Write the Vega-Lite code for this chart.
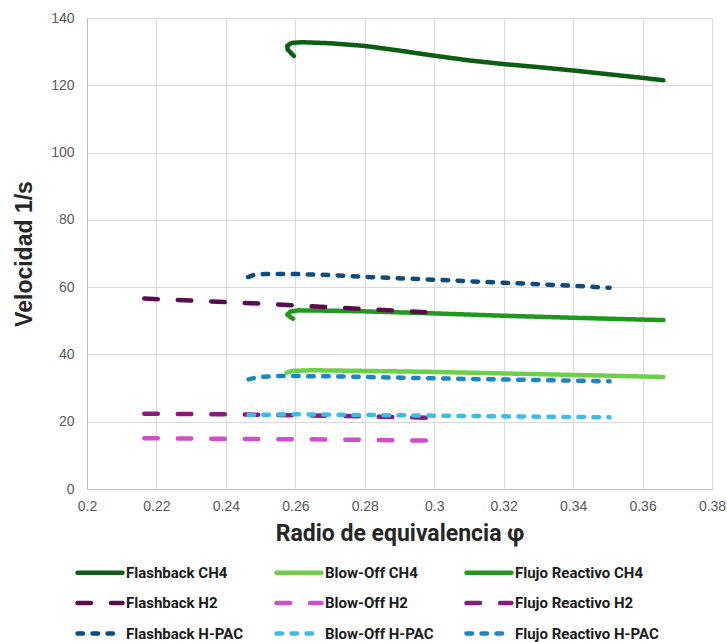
{
  "$schema": "https://vega.github.io/schema/vega-lite/v6.json",
  "width": 625,
  "height": 471,
  "autosize": {"type": "none"},
  "padding": {"left": 87, "top": 18, "right": 15, "bottom": 153},
  "background": "white",
  "data": {
    "values": [
      {"s": "Flashback CH4", "i": 0, "phi": 0.2596, "v": 128.7},
      {"s": "Flashback CH4", "i": 1, "phi": 0.2578, "v": 130.6},
      {"s": "Flashback CH4", "i": 2, "phi": 0.2577, "v": 131.8},
      {"s": "Flashback CH4", "i": 3, "phi": 0.259, "v": 132.6},
      {"s": "Flashback CH4", "i": 4, "phi": 0.262, "v": 132.8},
      {"s": "Flashback CH4", "i": 5, "phi": 0.27, "v": 132.5},
      {"s": "Flashback CH4", "i": 6, "phi": 0.28, "v": 131.7},
      {"s": "Flashback CH4", "i": 7, "phi": 0.29, "v": 130.3},
      {"s": "Flashback CH4", "i": 8, "phi": 0.3, "v": 128.8},
      {"s": "Flashback CH4", "i": 9, "phi": 0.31, "v": 127.4},
      {"s": "Flashback CH4", "i": 10, "phi": 0.32, "v": 126.3},
      {"s": "Flashback CH4", "i": 11, "phi": 0.33, "v": 125.4},
      {"s": "Flashback CH4", "i": 12, "phi": 0.34, "v": 124.4},
      {"s": "Flashback CH4", "i": 13, "phi": 0.35, "v": 123.3},
      {"s": "Flashback CH4", "i": 14, "phi": 0.36, "v": 122.2},
      {"s": "Flashback CH4", "i": 15, "phi": 0.366, "v": 121.5},

      {"s": "Blow-Off CH4", "i": 0, "phi": 0.2575, "v": 34.6},
      {"s": "Blow-Off CH4", "i": 1, "phi": 0.259, "v": 35.1},
      {"s": "Blow-Off CH4", "i": 2, "phi": 0.265, "v": 35.3},
      {"s": "Blow-Off CH4", "i": 3, "phi": 0.28, "v": 35.1},
      {"s": "Blow-Off CH4", "i": 4, "phi": 0.3, "v": 34.8},
      {"s": "Blow-Off CH4", "i": 5, "phi": 0.327, "v": 34.2},
      {"s": "Blow-Off CH4", "i": 6, "phi": 0.345, "v": 33.8},
      {"s": "Blow-Off CH4", "i": 7, "phi": 0.366, "v": 33.3},

      {"s": "Flujo Reactivo CH4", "i": 0, "phi": 0.2593, "v": 50.6},
      {"s": "Flujo Reactivo CH4", "i": 1, "phi": 0.2577, "v": 51.8},
      {"s": "Flujo Reactivo CH4", "i": 2, "phi": 0.2585, "v": 52.7},
      {"s": "Flujo Reactivo CH4", "i": 3, "phi": 0.261, "v": 53.1},
      {"s": "Flujo Reactivo CH4", "i": 4, "phi": 0.27, "v": 53.0},
      {"s": "Flujo Reactivo CH4", "i": 5, "phi": 0.28, "v": 52.8},
      {"s": "Flujo Reactivo CH4", "i": 6, "phi": 0.3, "v": 52.2},
      {"s": "Flujo Reactivo CH4", "i": 7, "phi": 0.32, "v": 51.5},
      {"s": "Flujo Reactivo CH4", "i": 8, "phi": 0.34, "v": 50.9},
      {"s": "Flujo Reactivo CH4", "i": 9, "phi": 0.366, "v": 50.2},

      {"s": "Flashback H2", "i": 0, "phi": 0.2165, "v": 56.6},
      {"s": "Flashback H2", "i": 1, "phi": 0.23, "v": 56.0},
      {"s": "Flashback H2", "i": 2, "phi": 0.25, "v": 55.1},
      {"s": "Flashback H2", "i": 3, "phi": 0.27, "v": 54.0},
      {"s": "Flashback H2", "i": 4, "phi": 0.298, "v": 52.5},

      {"s": "Blow-Off H2", "i": 0, "phi": 0.2165, "v": 15.1},
      {"s": "Blow-Off H2", "i": 1, "phi": 0.24, "v": 14.9},
      {"s": "Blow-Off H2", "i": 2, "phi": 0.26, "v": 14.8},
      {"s": "Blow-Off H2", "i": 3, "phi": 0.28, "v": 14.6},
      {"s": "Blow-Off H2", "i": 4, "phi": 0.298, "v": 14.4},

      {"s": "Flujo Reactivo H2", "i": 0, "phi": 0.2165, "v": 22.4},
      {"s": "Flujo Reactivo H2", "i": 1, "phi": 0.24, "v": 22.2},
      {"s": "Flujo Reactivo H2", "i": 2, "phi": 0.26, "v": 21.9},
      {"s": "Flujo Reactivo H2", "i": 3, "phi": 0.28, "v": 21.6},
      {"s": "Flujo Reactivo H2", "i": 4, "phi": 0.298, "v": 21.2},

      {"s": "Flashback H-PAC", "i": 0, "phi": 0.2464, "v": 63.0},
      {"s": "Flashback H-PAC", "i": 1, "phi": 0.248, "v": 63.6},
      {"s": "Flashback H-PAC", "i": 2, "phi": 0.251, "v": 63.9},
      {"s": "Flashback H-PAC", "i": 3, "phi": 0.26, "v": 63.9},
      {"s": "Flashback H-PAC", "i": 4, "phi": 0.27, "v": 63.6},
      {"s": "Flashback H-PAC", "i": 5, "phi": 0.2835, "v": 62.9},
      {"s": "Flashback H-PAC", "i": 6, "phi": 0.3, "v": 62.2},
      {"s": "Flashback H-PAC", "i": 7, "phi": 0.32, "v": 61.3},
      {"s": "Flashback H-PAC", "i": 8, "phi": 0.34, "v": 60.4},
      {"s": "Flashback H-PAC", "i": 9, "phi": 0.3505, "v": 59.8},

      {"s": "Blow-Off H-PAC", "i": 0, "phi": 0.2465, "v": 22.0},
      {"s": "Blow-Off H-PAC", "i": 1, "phi": 0.26, "v": 22.2},
      {"s": "Blow-Off H-PAC", "i": 2, "phi": 0.28, "v": 22.0},
      {"s": "Blow-Off H-PAC", "i": 3, "phi": 0.3, "v": 21.8},
      {"s": "Blow-Off H-PAC", "i": 4, "phi": 0.32, "v": 21.6},
      {"s": "Blow-Off H-PAC", "i": 5, "phi": 0.3505, "v": 21.3},

      {"s": "Flujo Reactivo H-PAC", "i": 0, "phi": 0.2465, "v": 32.6},
      {"s": "Flujo Reactivo H-PAC", "i": 1, "phi": 0.249, "v": 33.2},
      {"s": "Flujo Reactivo H-PAC", "i": 2, "phi": 0.254, "v": 33.6},
      {"s": "Flujo Reactivo H-PAC", "i": 3, "phi": 0.27, "v": 33.5},
      {"s": "Flujo Reactivo H-PAC", "i": 4, "phi": 0.29, "v": 33.1},
      {"s": "Flujo Reactivo H-PAC", "i": 5, "phi": 0.31, "v": 32.7},
      {"s": "Flujo Reactivo H-PAC", "i": 6, "phi": 0.33, "v": 32.4},
      {"s": "Flujo Reactivo H-PAC", "i": 7, "phi": 0.3505, "v": 32.0}
    ]
  },
  "mark": {"type": "line", "strokeWidth": 4.5, "strokeCap": "round", "strokeJoin": "round"},
  "encoding": {
    "x": {
      "field": "phi",
      "type": "quantitative",
      "scale": {"domain": [0.2, 0.38], "nice": false, "zero": false},
      "axis": {
        "values": [0.2, 0.22, 0.24, 0.26, 0.28, 0.3, 0.32, 0.34, 0.36, 0.38],
        "format": ".2~f",
        "grid": true,
        "gridColor": "#d9d9d9",
        "ticks": false,
        "domainColor": "#bfbfbf",
        "labelFont": "Liberation Sans",
        "labelFontSize": 14,
        "labelColor": "#595959",
        "labelPadding": 10,
        "labelOverlap": false,
        "labelFlush": false,
        "title": "Radio de equivalencia φ",
        "titleFont": "Roboto, sans-serif",
        "titleFontSize": 23,
        "titleFontWeight": "bold",
        "titleColor": "#262626",
        "titlePadding": 9
      }
    },
    "y": {
      "field": "v",
      "type": "quantitative",
      "scale": {"domain": [0, 140], "nice": false},
      "axis": {
        "values": [0, 20, 40, 60, 80, 100, 120, 140],
        "grid": true,
        "gridColor": "#d9d9d9",
        "ticks": false,
        "domainColor": "#bfbfbf",
        "labelFont": "Liberation Sans",
        "labelFontSize": 14,
        "labelColor": "#595959",
        "labelPadding": 13,
        "title": "Velocidad 1/s",
        "titleFont": "Liberation Sans",
        "titleFontSize": 23,
        "titleFontWeight": "bold",
        "titleColor": "#262626",
        "titlePadding": 14
      }
    },
    "color": {
      "field": "s",
      "type": "nominal",
      "scale": {
        "domain": ["Flashback CH4", "Blow-Off CH4", "Flujo Reactivo CH4", "Flashback H2", "Blow-Off H2", "Flujo Reactivo H2", "Flashback H-PAC", "Blow-Off H-PAC", "Flujo Reactivo H-PAC"],
        "range": ["#0b5e12", "#6ecf4a", "#209820", "#5b0c4c", "#d04fc6", "#8a1a7e", "#0d4c7d", "#3cbde8", "#1c86c4"]
      },
      "legend": {
        "title": null,
        "orient": "none",
        "legendX": -12,
        "legendY": 543,
        "direction": "horizontal",
        "columns": 3,
        "columnPadding": 23,
        "rowPadding": 9.5,
        "symbolType": "M-1,0H4",
        "symbolSize": 324,
        "symbolStrokeWidth": 4.5,
        "symbolFillColor": "transparent",
        "labelFont": "Roboto, sans-serif",
        "labelFontWeight": "bold",
        "labelFontSize": 15,
        "labelColor": "#1a1a1a",
        "labelOffset": 28,
        "labelLimit": 300,
        "encode": {"symbols": {"update": {"strokeCap": {"value": "round"}, "fill": {"value": "transparent"}}}}
      }
    },
    "strokeDash": {
      "field": "s",
      "type": "nominal",
      "scale": {
        "domain": ["Flashback CH4", "Blow-Off CH4", "Flujo Reactivo CH4", "Flashback H2", "Blow-Off H2", "Flujo Reactivo H2", "Flashback H-PAC", "Blow-Off H-PAC", "Flujo Reactivo H-PAC"],
        "range": [[1, 0], [1, 0], [1, 0], [13.5, 20], [13.5, 20], [13.5, 20], [5.5, 9.5], [5.5, 9.5], [5.5, 9.5]]
      },
      "legend": {
        "title": null,
        "orient": "none",
        "legendX": -12,
        "legendY": 543,
        "direction": "horizontal",
        "columns": 3,
        "columnPadding": 23,
        "rowPadding": 9.5,
        "symbolType": "M-1,0H4",
        "symbolSize": 324,
        "symbolStrokeWidth": 4.5,
        "symbolFillColor": "transparent",
        "labelFont": "Roboto, sans-serif",
        "labelFontWeight": "bold",
        "labelFontSize": 15,
        "labelColor": "#1a1a1a",
        "labelOffset": 28,
        "labelLimit": 300,
        "encode": {"symbols": {"update": {"strokeCap": {"value": "round"}, "fill": {"value": "transparent"}}}}
      }
    },
    "order": {"field": "i", "type": "quantitative"}
  },
  "config": {"view": {"stroke": null}}
}
